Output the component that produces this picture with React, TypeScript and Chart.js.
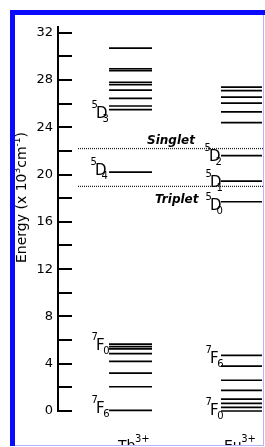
import React, { useEffect, useRef } from 'react';
import { Chart, registerables } from 'chart.js';

Chart.register(...registerables);

// ---- data (energies in 10^3 cm^-1) ----
const tbUpperLevels = [30.7, 28.95, 28.8, 27.8, 27.6, 27.15, 26.45, 25.8, 25.5];
const tb5D4Levels = [20.2];
const tbLowerLevels = [5.65, 5.45, 5.25, 4.85, 4.2, 3.2, 2.05, 0.05];
const euUpperLevels = [27.4, 27.1, 26.55, 26.05, 25.3, 24.4];
const eu5DLevels = [21.6, 19.45, 17.7];
const euLowerLevels = [4.7, 3.8, 2.6, 1.75, 1.0, 0.65, 0.3, 0.0];
const singletEnergy = 22.2;
const tripletEnergy = 19.0;
const yTickValues = [0, 2, 4, 6, 8, 10, 12, 14, 16, 18, 20, 22, 24, 26, 28, 30, 32];
const yTickLabels = ['0', '', '4', '', '8', '', '12', '', '16', '', '20', '', '24', '', '28', '', '32'];
const ionLabels = [
  { main: 'Tb', sup: '3+' },
  { main: 'Eu', sup: '3+' },
];
const termLabels = [
  { sup: '5', main: 'D', sub: '3', level: 25.5 },
  { sup: '5', main: 'D', sub: '4', level: 20.2 },
  { sup: '7', main: 'F', sub: '0', level: 5.65 },
  { sup: '7', main: 'F', sub: '6', level: 0.05 },
  { sup: '5', main: 'D', sub: '2', level: 21.6 },
  { sup: '5', main: 'D', sub: '1', level: 19.45 },
  { sup: '5', main: 'D', sub: '0', level: 17.7 },
  { sup: '7', main: 'F', sub: '6', level: 4.7 },
  { sup: '7', main: 'F', sub: '0', level: 0.0 },
];
const stateLabels = [
  { text: 'Singlet', level: singletEnergy },
  { text: 'Triplet', level: tripletEnergy },
];

// ---- placement (layout only) ----
const TB_X = [24.9, 45.85];
const EU_X = [79.5, 99.5];
const DOT_X = [9.75, 100];
const termPlacement = [
  { x: 96, dy: 8 },
  { x: 95, dy: 3 },
  { x: 96, dy: 6 },
  { x: 96, dy: 3 },
  { x: 209, dy: 5 },
  { x: 210, dy: 6 },
  { x: 210, dy: 8 },
  { x: 210, dy: 8 },
  { x: 210, dy: 4 },
];
const statePlacement = [
  { x: 147, dy: -5 },
  { x: 155, dy: 17 },
];
const ionPlacement = [118, 224];

const FONT = '"DejaVu Sans", Verdana, sans-serif';

function levelSets(levels: number[], xr: number[]) {
  return levels.map((e) => ({
    data: [
      { x: xr[0], y: e },
      { x: xr[1], y: e },
    ],
    borderColor: '#000',
    borderWidth: 1.7,
    pointRadius: 0,
    clip: false as any,
  }));
}

const textPlugin = {
  id: 'textPlugin',
  afterDatasetsDraw(chart: any) {
    const ctx = chart.ctx;
    const ys = chart.scales.y;
    ctx.save();
    ctx.fillStyle = '#000';
    ctx.textBaseline = 'alphabetic';
    ctx.textAlign = 'left';
    // term symbols
    termLabels.forEach((t, i) => {
      const p = termPlacement[i];
      const B = ys.getPixelForValue(t.level) + p.dy;
      ctx.font = '15px ' + FONT;
      const w = ctx.measureText(t.main).width;
      ctx.fillText(t.main, p.x, B);
      ctx.font = '10px ' + FONT;
      ctx.fillText(t.sup, p.x - 4.5, B - 10);
      const kern = t.main === 'D' ? -5 : -1.5;
      ctx.fillText(t.sub, p.x + w + kern, B + 4);
    });
    // singlet / triplet
    ctx.font = 'italic bold 12px ' + FONT;
    stateLabels.forEach((s, i) => {
      const p = statePlacement[i];
      ctx.fillText(s.text, p.x, ys.getPixelForValue(s.level) + p.dy);
    });
    // ion labels
    ionLabels.forEach((l, i) => {
      const x = ionPlacement[i];
      ctx.font = '14px ' + FONT;
      const w = ctx.measureText(l.main).width;
      ctx.fillText(l.main, x, 450);
      ctx.font = '10px ' + FONT;
      ctx.fillText(l.sup, x + w - 0.5, 442);
    });
    // y title
    ctx.translate(25.5, 263);
    ctx.rotate(-Math.PI / 2);
    let cx = 0;
    const seg = (txt: string, size: number, dy: number) => {
      ctx.font = size + 'px ' + FONT;
      ctx.fillText(txt, cx, dy);
      cx += ctx.measureText(txt).width;
    };
    seg('Energy (x 10', 14, 0);
    seg('3', 9, -6);
    seg('cm', 14, 0);
    seg('-1', 9, -6);
    seg(')', 14, 0);
    ctx.restore();
  },
  afterDraw(chart: any) {
    const ctx = chart.ctx;
    ctx.save();
    ctx.fillStyle = '#fff';
    ctx.fillRect(0, 446, 265, 10);
    ctx.fillRect(0, 0, 10, 447);
    ctx.fillRect(0, 0, 265, 10);
    ctx.fillStyle = '#b4b4ff';
    ctx.fillRect(263, 15, 1, 431);
    ctx.fillRect(10, 445, 254, 1);
    ctx.fillStyle = '#0a0aff';
    ctx.fillRect(10, 10, 5, 436);
    ctx.fillRect(10, 10, 255, 5);
    ctx.restore();
  },
};

export default function App() {
  const ref = useRef<HTMLCanvasElement | null>(null);
  useEffect(() => {
    document.body.style.margin = '0';
    const canvas = ref.current!;
    const datasets: any[] = [
      ...levelSets(tbUpperLevels, TB_X),
      ...levelSets(tb5D4Levels, TB_X),
      ...levelSets(tbLowerLevels, TB_X),
      ...levelSets(euUpperLevels, EU_X),
      ...levelSets(eu5DLevels, EU_X),
      ...levelSets(euLowerLevels, EU_X),
      ...[singletEnergy, tripletEnergy].map((e) => ({
        data: [
          { x: DOT_X[0], y: e },
          { x: DOT_X[1], y: e },
        ],
        borderColor: '#222',
        borderWidth: 1.3,
        borderDash: [1, 1],
        pointRadius: 0,
        clip: false,
      })),
    ];
    const chart = new Chart(canvas, {
      type: 'line',
      data: { datasets },
      plugins: [textPlugin],
      options: {
        animation: false,
        responsive: false,
        maintainAspectRatio: false,
        events: [],
        layout: { padding: { top: 15, right: 2, bottom: 36, left: 0 } },
        plugins: { legend: { display: false }, tooltip: { enabled: false } },
        scales: {
          x: { type: 'linear', min: 0, max: 100, display: false },
          y: {
            type: 'linear',
            min: 0,
            max: 32.5,
            afterBuildTicks: (s: any) => {
              s.ticks = yTickValues.map((v) => ({ value: v }));
            },
            afterFit: (s: any) => {
              s.width = 58;
            },
            ticks: {
              autoSkip: false,
              padding: 19,
              color: '#000',
              font: { family: FONT, size: 13 },
              callback: (_v: any, i: number) => yTickLabels[i],
            },
            grid: {
              drawOnChartArea: false,
              color: '#000',
              lineWidth: 2,
              tickLength: -14,
              tickColor: '#000',
              tickWidth: 2,
            },
            border: { color: '#000', width: 2 },
          },
        },
      } as any,
    });
    return () => chart.destroy();
  }, []);
  return (
    <div style={{ width: 265, height: 447, position: 'relative', background: '#fff' }}>
      <canvas ref={ref} width={265} height={447} style={{ display: 'block' }} />
    </div>
  );
}
